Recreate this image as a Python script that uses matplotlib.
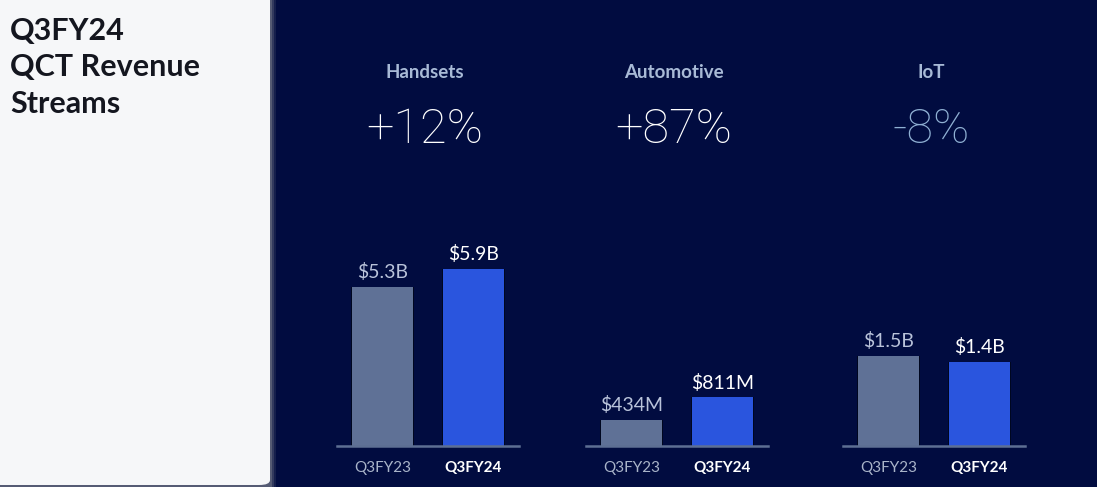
import matplotlib.pyplot as plt
from matplotlib.patches import Rectangle, FancyBboxPatch

# data
groups = ["Handsets", "Automotive", "IoT"]
changes = ["+12%", "+87%", "-8%"]
periods = ["Q3FY23", "Q3FY24"]
handsets = [5.3, 5.9]      # $B
automotive = [0.434, 0.811]
iot = [1.5, 1.4]
value_labels = [["$5.3B", "$5.9B"], ["$434M", "$811M"], ["$1.5B", "$1.4B"]]

navy = "#010c40"
old_col = "#5f7196"
new_col = "#2a55de"

W, H = 1097, 487
fig = plt.figure(figsize=(W / 100, H / 100), dpi=100)
fig.patch.set_facecolor(navy)

# left white panel with soft shadow
for dx, a in [(6, 0.15), (4, 0.25), (2, 0.4)]:
    fig.patches.append(Rectangle((0, 0), (270 + dx) / W, 1, transform=fig.transFigure,
                                 facecolor="#8a8d96", alpha=a, edgecolor="none"))
fig.patches.append(FancyBboxPatch((-10 / W, 2 / H), 280 / W, 1.2, transform=fig.transFigure,
                                  boxstyle="round,pad=0,rounding_size=0.01",
                                  facecolor="#f6f7f9", edgecolor="none"))

fig.text(10 / W, 1 - 17 / H, "Q3FY24\nQCT Revenue\nStreams", ha="left", va="top",
         fontsize=22, fontweight="bold", family="Lato", color="#14161f", linespacing=1.36)

series = [handsets, automotive, iot]
lefts = [337, 586, 843]
scale = [30, 60, 60]   # px per $B
ax_w, ax_h, base = 182, 200, 41

for k in range(3):
    ax = fig.add_axes([lefts[k] / W, base / H, ax_w / W, ax_h / H])
    ax.set_facecolor("none")
    vals = series[k]
    ax.set_xlim(-0.5, 1.5)
    ax.set_ylim(0, ax_h / scale[k])
    # faint shadow behind bars
    ax.bar([0, 1], vals, width=0.69, color="#000720", zorder=1)
    ax.bar([0, 1], vals, width=0.67, color=[old_col, new_col], zorder=2)
    for i, v in enumerate(vals):
        ax.annotate(value_labels[k][i], (i, v), xytext=(0, 4), textcoords="offset points",
                    ha="center", va="bottom", fontsize=14, family="Lato",
                    color="#b9c3da" if i == 0 else "white")
    for s in ["top", "right", "left"]:
        ax.spines[s].set_visible(False)
    ax.spines["bottom"].set_color("#5d6f93")
    ax.spines["bottom"].set_linewidth(1.8)
    ax.set_yticks([])
    ax.set_xticks([0, 1])
    ax.set_xticklabels(periods, fontsize=11, family="Lato")
    ax.tick_params(axis="x", length=0, pad=11)
    tl = ax.get_xticklabels()
    tl[0].set_color("#a9b4c9")
    tl[1].set_color("white")
    tl[1].set_fontweight("bold")

    cx = (lefts[k] + ax_w / 2) / W
    fig.text(cx - 3 / W, 1 - 73 / H, groups[k], ha="center", va="center", fontsize=13.5,
             fontweight="bold", family="Lato", color="#a8bad6")
    fig.text(cx - 3 / W, 1 - 130 / H, changes[k], ha="center", va="center", fontsize=35,
             fontweight="light", family="Roboto",
             color="#8fb0d3" if changes[k].startswith("-") else "white")

fig.savefig("out.png", dpi=100, facecolor=fig.get_facecolor())
